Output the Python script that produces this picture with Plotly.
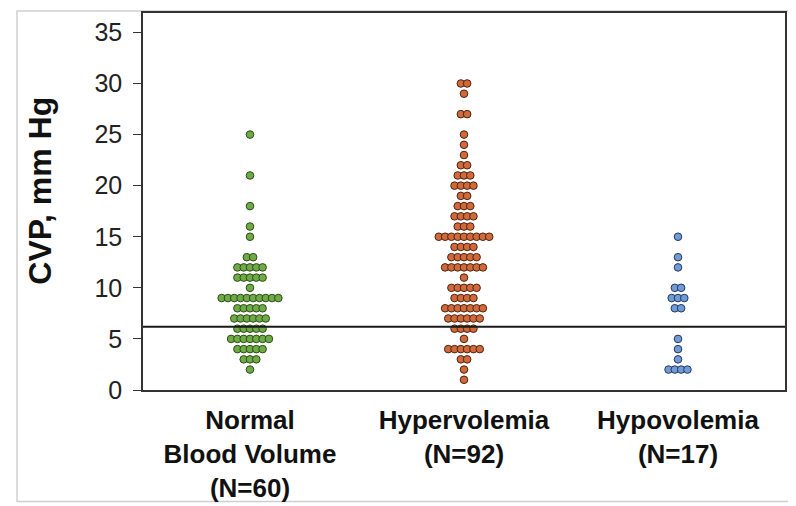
import plotly.graph_objects as go

# CVP values (mm Hg) and how many patients sit at each value
normal_cvp = [25, 21, 18, 16, 15, 13, 12, 11, 10, 9, 8, 7, 6, 5, 4, 3, 2]
normal_n = [1, 1, 1, 1, 1, 2, 5, 5, 1, 10, 5, 6, 5, 7, 5, 3, 1]

hyper_cvp = [30, 29, 27, 25, 24, 23, 22, 21, 20, 19, 18, 17, 16, 15, 14, 13,
             12, 11, 10, 9, 8, 7, 6, 5, 4, 3, 2, 1]
hyper_n = [2, 1, 2, 1, 1, 1, 2, 3, 4, 2, 3, 4, 3, 9, 4, 5,
           7, 1, 5, 4, 7, 6, 4, 1, 6, 2, 1, 1]

hypo_cvp = [15, 13, 12, 10, 9, 8, 5, 4, 3, 2]
hypo_n = [1, 1, 1, 2, 3, 2, 1, 1, 1, 4]

group_labels = ["<b>Normal<br>Blood Volume<br>(N=60)</b>",
                "<b>Hypervolemia<br>(N=92)</b>",
                "<b>Hypovolemia<br>(N=17)</b>"]
group_pos = [0.5, 1.5, 2.5]
threshold = 6.2

fills = ["#6FAB45", "#D2693A", "#6F9BD8"]
edges = ["#2E4A1C", "#4A2410", "#26375A"]

# the page body adds an 8px margin, so the figure is sized to fill the rest
OFF = 8
W, H = 796 - OFF, 506 - OFF
L, R, T, B = 135, 11, 3, 115.3
PW, PH = W - L - R, H - T - B
step = 6.3 / (PW / 3.0)  # horizontal gap between dots, data units


def px(x):
    return (x - OFF - L) / PW


def py(y):
    return (H - B - (y - OFF)) / PH


def swarm(center, vals, counts):
    xs, ys = [], []
    for v, n in zip(vals, counts):
        for i in range(n):
            xs.append(center + (i - (n - 1) / 2) * step)
            ys.append(v)
    return xs, ys


fig = go.Figure()
groups = [(normal_cvp, normal_n), (hyper_cvp, hyper_n), (hypo_cvp, hypo_n)]
for k, (vals, counts) in enumerate(groups):
    xs, ys = swarm(group_pos[k], vals, counts)
    fig.add_trace(go.Scatter(
        x=xs, y=ys, mode="markers",
        marker=dict(size=7.6, color=fills[k], line=dict(color=edges[k], width=1)),
        showlegend=False, hoverinfo="y"))

fig.add_shape(type="line", xref="paper", yref="y", x0=0, x1=1,
              y0=threshold, y1=threshold, line=dict(color="#1a1a1a", width=2))

# light outer frame of the figure
fig.add_shape(type="rect", xref="paper", yref="paper",
              x0=px(17), x1=px(791), y0=py(503), y1=py(OFF + 1),
              line=dict(color="#cfcfcf", width=1.5), layer="below")

fig.add_annotation(text="<b>CVP, mm Hg</b>", textangle=-90,
                   xref="paper", yref="paper", x=px(40), y=py(190),
                   xanchor="center", yanchor="middle", showarrow=False,
                   font=dict(size=32, color="#111111"))

fig.update_layout(
    width=W, height=H,
    margin=dict(l=L, r=R, t=T, b=B),
    paper_bgcolor="white", plot_bgcolor="white",
    font=dict(family="Liberation Sans, Arial, sans-serif", color="#111111"),
    xaxis=dict(range=[0, 3], tickvals=group_pos, ticktext=group_labels,
               showgrid=False, zeroline=False, showline=True, mirror=True,
               linecolor="#333333", linewidth=1.5, ticks="",
               tickfont=dict(size=26), ticklabelstandoff=6),
    yaxis=dict(range=[0, 36.9], tickvals=[0, 5, 10, 15, 20, 25, 30, 35],
               showgrid=False, zeroline=False, showline=True, mirror=True,
               linecolor="#333333", linewidth=1.5, ticks="outside",
               ticklen=8, tickcolor="#333333", tickwidth=1.2,
               tickfont=dict(size=25, color="#222222"), ticklabelstandoff=6),
)

fig.write_html("out.html")
